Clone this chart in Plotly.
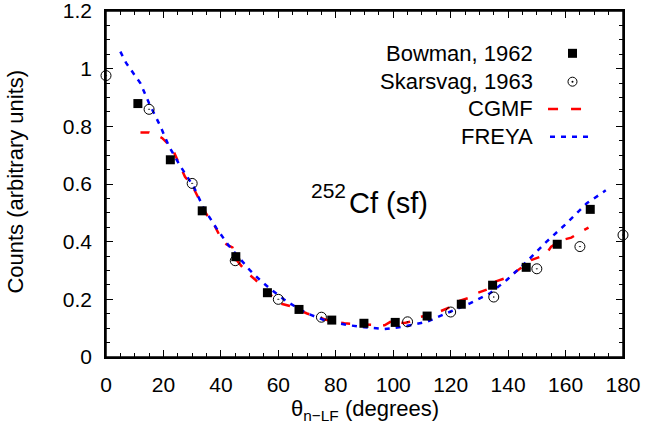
import plotly.graph_objects as go

# Bowman, 1962 (filled squares)
bowman_x = [11.1, 22.4, 33.5, 45.2, 56.2, 67.2, 78.6, 89.8, 100.7, 111.8, 123.7, 134.6, 146.3, 157.1, 168.6]
bowman_y = [0.879, 0.684, 0.507, 0.348, 0.223, 0.165, 0.128, 0.117, 0.120, 0.142, 0.183, 0.249, 0.311, 0.391, 0.512]

# Skarsvag, 1963 (open circles with dot)
skars_x = [0, 15, 30, 45, 60, 75, 105, 120, 135, 150, 165, 180]
skars_y = [0.976, 0.859, 0.602, 0.334, 0.200, 0.138, 0.122, 0.156, 0.208, 0.306, 0.383, 0.423]

# CGMF (red dashed)
cgmf_x = [12, 15, 17, 19.6, 21, 23, 25, 27.5, 30, 32, 33.5, 35, 38, 40, 42, 44, 45.5, 48, 50, 52, 56,
          60.6, 64, 70, 77, 83, 87, 92, 97, 99, 100.5, 102, 104, 106, 108, 111, 114, 116, 119, 122,
          126, 129, 133.7, 135.4, 139, 142, 146, 148, 153, 155, 159, 162, 166, 168]
cgmf_y = [0.779, 0.779, 0.772, 0.759, 0.745, 0.725, 0.68, 0.625, 0.595, 0.555, 0.53, 0.495, 0.452, 0.412,
          0.39, 0.38, 0.336, 0.305, 0.285, 0.268, 0.227, 0.186, 0.177, 0.151, 0.128, 0.117, 0.114, 0.113,
          0.11, 0.122, 0.131, 0.12, 0.118, 0.123, 0.136, 0.142, 0.148, 0.157, 0.169, 0.192, 0.204, 0.221,
          0.238, 0.261, 0.273, 0.29, 0.319, 0.336, 0.354, 0.383, 0.406, 0.414, 0.438, 0.449]

# FREYA (blue dotted)
freya_x = [5, 7, 12, 15, 19, 22, 26, 30.5, 34, 38.5, 42.6, 45.5, 50, 53.6, 57, 63, 70, 77, 84, 90, 97,
           103.5, 111.7, 119.8, 126.7, 133.7, 139.5, 146.5, 153.4, 160.4, 167.4, 174]
freya_y = [1.059, 1.02, 0.949, 0.88, 0.799, 0.729, 0.66, 0.591, 0.516, 0.446, 0.388, 0.354, 0.302, 0.267,
           0.238, 0.192, 0.151, 0.124, 0.111, 0.103, 0.097, 0.105, 0.122, 0.157, 0.186, 0.221, 0.267,
           0.331, 0.40, 0.464, 0.533, 0.578]

x_ticks = [0, 20, 40, 60, 80, 100, 120, 140, 160, 180]
y_ticks = [0, 0.2, 0.4, 0.6, 0.8, 1.0, 1.2]
y_tick_text = ["0", "0.2", "0.4", "0.6", "0.8", "1", "1.2"]

legend_names = ["Bowman, 1962", "Skarsvag, 1963", "CGMF", "FREYA"]

FONT = "Liberation Sans, Arial, Helvetica, sans-serif"

fig = go.Figure()
fig.add_trace(go.Scatter(x=cgmf_x, y=cgmf_y, mode="lines", name="CGMF",
                         line=dict(color="#ff0000", width=2.5, dash="9px,12px"), showlegend=False))
fig.add_trace(go.Scatter(x=freya_x, y=freya_y, mode="lines", name="FREYA",
                         line=dict(color="#0000ff", width=2.5, dash="5px,6px"), showlegend=False))
fig.add_trace(go.Scatter(x=bowman_x, y=bowman_y, mode="markers", name="Bowman, 1962",
                         marker=dict(symbol="square", size=9, color="black"), showlegend=False,
                         cliponaxis=False))
fig.add_trace(go.Scatter(x=skars_x, y=skars_y, mode="markers", name="Skarsvag, 1963",
                         marker=dict(symbol="circle-open-dot", size=10, color="black",
                                     line=dict(width=1, color="black")),
                         showlegend=False, cliponaxis=False))

axis_common = dict(
    showline=True, linecolor="black", linewidth=1.5, mirror="allticks",
    ticks="inside", ticklen=7, tickwidth=1, tickcolor="black",
    showgrid=False, zeroline=False, automargin=False, ticklabeloverflow="allow",
    tickfont=dict(family=FONT, size=21, color="black"),
)

fig.update_xaxes(range=[0, 180], tickvals=x_ticks, ticklabelstandoff=8,
                 minor=dict(dtick=5, ticks="inside", ticklen=4, tickcolor="black"),
                 **axis_common)
fig.update_yaxes(range=[0, 1.2], tickvals=y_ticks, ticktext=y_tick_text, ticklabelstandoff=8,
                 minor=dict(dtick=0.05, ticks="inside", ticklen=4, tickcolor="black"),
                 **axis_common)

# Axis titles as annotations
fig.add_annotation(x=0.5, y=-0.153, xref="paper", yref="paper", text="θ<sub>n−LF</sub> (degrees)",
                   showarrow=False, xanchor="center", yanchor="middle",
                   font=dict(family=FONT, size=22, color="black"))
fig.add_annotation(x=-0.174, y=0.507, xref="paper", yref="paper", text="Counts (arbitrary units)",
                   showarrow=False, xanchor="center", yanchor="middle", textangle=-90,
                   font=dict(family=FONT, size=22, color="black"))

# Manual legend (text right-aligned, key on the right)
text_x = 0.8298
key_x = 0.9023
rows_y = [0.8777, 0.7957, 0.7168, 0.6367]
for name, yy in zip(legend_names, rows_y):
    fig.add_annotation(x=text_x, y=yy, xref="paper", yref="paper", text=name, showarrow=False,
                       xanchor="right", yanchor="middle", font=dict(family=FONT, size=22, color="black"))

shapes = []
# Frame
shapes.append(dict(type="rect", xref="paper", yref="paper", x0=0, x1=1, y0=0, y1=1,
                   line=dict(color="black", width=1.5), fillcolor="rgba(0,0,0,0)", layer="above"))
# Bowman key: filled square
shapes.append(dict(type="rect", xref="paper", yref="paper", xsizemode="pixel", ysizemode="pixel",
                   xanchor=key_x, yanchor=rows_y[0], x0=-4.5, x1=4.5, y0=-4.5, y1=4.5,
                   fillcolor="black", line=dict(width=0)))
# Skarsvag key: open circle with dot
shapes.append(dict(type="circle", xref="paper", yref="paper", xsizemode="pixel", ysizemode="pixel",
                   xanchor=key_x, yanchor=rows_y[1], x0=-4.5, x1=4.5, y0=-4.5, y1=4.5,
                   fillcolor="rgba(0,0,0,0)", line=dict(width=1, color="black")))
shapes.append(dict(type="circle", xref="paper", yref="paper", xsizemode="pixel", ysizemode="pixel",
                   xanchor=key_x, yanchor=rows_y[1], x0=-1, x1=1, y0=-1, y1=1,
                   fillcolor="black", line=dict(width=0)))
# CGMF key
shapes.append(dict(type="line", xref="paper", yref="paper", x0=0.855, x1=0.9207, y0=rows_y[2], y1=rows_y[2],
                   line=dict(color="#ff0000", width=2.5, dash="10px,13px")))
# FREYA key
shapes.append(dict(type="line", xref="paper", yref="paper", x0=0.8588, x1=0.9323, y0=rows_y[3], y1=rows_y[3],
                   line=dict(color="#0000ff", width=2.5, dash="5px,6px")))
fig.update_layout(shapes=shapes)

# 252Cf (sf) label
fig.add_annotation(x=83.9, y=0.535, xref="x", yref="y", text="Cf (sf)", showarrow=False,
                   xanchor="left", yanchor="middle", font=dict(family=FONT, size=29, color="black"))
fig.add_annotation(x=84.3, y=0.578, xref="x", yref="y", text="252", showarrow=False,
                   xanchor="right", yanchor="middle", font=dict(family=FONT, size=21, color="black"))

fig.update_layout(
    width=646, height=430,
    margin=dict(l=106, r=23, t=11, b=73),
    paper_bgcolor="white", plot_bgcolor="white",
    font=dict(family=FONT, color="black"),
    showlegend=False,
)

fig.write_html("out.html", config={"displayModeBar": False},
               post_script="document.body.style.margin='0';document.body.style.padding='0';"
                           "document.body.style.overflow='hidden';")
